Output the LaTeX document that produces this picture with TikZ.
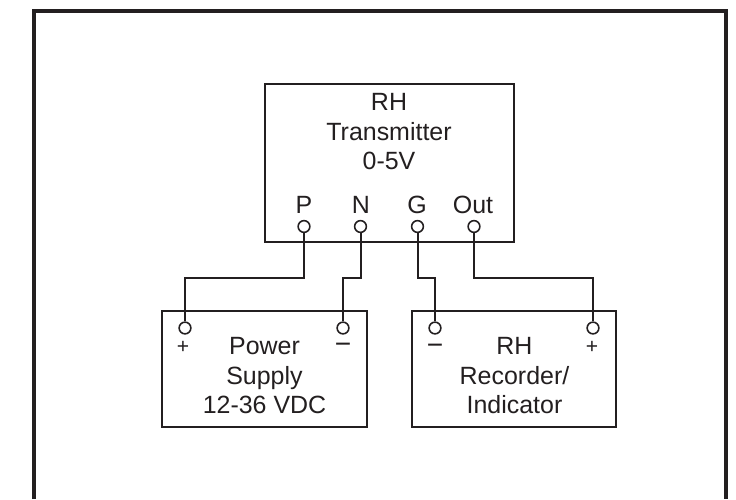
\documentclass[tikz,border=0pt]{standalone}
\usepackage{fontspec}
\setmainfont{Liberation Sans}
\definecolor{inkdark}{HTML}{231F20}
\tikzset{
  unitbox/.style={draw=inkdark, line width=0.04cm},
  terminal/.style={draw=inkdark, fill=white, line width=0.032cm, circle, inner sep=0pt, minimum size=0.235cm},
  wire/.style={draw=inkdark, line width=0.04cm},
  boxtext/.style={text=inkdark, align=center, font=\fontsize{14.2}{16.8}\selectfont},
  pinlabel/.style={text=inkdark, anchor=base, inner sep=0pt, font=\fontsize{14.2}{16.8}\selectfont},
  plussign/.style={text=inkdark, inner sep=0pt, font=\fontsize{12}{14}\selectfont},
  minussign/.style={text=inkdark, inner sep=0pt, font=\fontsize{16}{18}\selectfont}
}

\begin{document}
\begin{tikzpicture}
    \useasboundingbox (0,0) rectangle (14.72,9.98);
    % Outer frame, open at the bottom
    \coordinate (frameBL) at (0.68,0);
    \coordinate (frameTL) at (0.68,9.76);
    \coordinate (frameTR) at (14.52,9.76);
    \coordinate (frameBR) at (14.52,0);
    \draw[draw=inkdark, line width=0.08cm] (frameBL) -- (frameTL) -- (frameTR) -- (frameBR);
    % Draw the main boxes
    \node[unitbox, minimum width=4.99cm, minimum height=3.16cm] (transmitter) at (7.785,6.72) {};
    \node[unitbox, minimum width=4.09cm, minimum height=2.32cm] (supply) at (5.29,2.60) {};
    \node[unitbox, minimum width=4.08cm, minimum height=2.32cm] (recorder) at (10.28,2.60) {};
    \node[boxtext] (transmitterText) at (7.78,7.34) {RH\\Transmitter\\0-5V};
    \node[boxtext] (supplyText) at (5.29,2.46) {Power\\Supply\\12-36 VDC};
    \node[boxtext] (recorderText) at (10.29,2.46) {RH\\Recorder/\\Indicator};
    % Terminals on the transmitter
    \node[terminal] (termP) at (6.08,5.45) {};
    \node[terminal] (termN) at (7.21,5.45) {};
    \node[terminal] (termG) at (8.35,5.45) {};
    \node[terminal] (termOut) at (9.48,5.45) {};
    \node[pinlabel] (labelP) at (6.08,5.72) {P};
    \node[pinlabel] (labelN) at (7.22,5.72) {N};
    \node[pinlabel] (labelG) at (8.34,5.72) {G};
    \node[pinlabel] (labelOut) at (9.46,5.72) {Out};
    % Terminals on the two lower boxes
    \node[terminal] (supplyPlus) at (3.70,3.42) {};
    \node[terminal] (supplyMinus) at (6.86,3.42) {};
    \node[terminal] (recorderMinus) at (8.70,3.42) {};
    \node[terminal] (recorderPlus) at (11.86,3.42) {};
    \node[plussign] (signA) at (3.66,3.04) {+};
    \node[minussign] (signB) at (6.86,3.02) {−};
    \node[minussign] (signC) at (8.70,3.00) {−};
    \node[plussign] (signD) at (11.84,3.04) {+};
    % Wires
    \coordinate (bend) at (0,4.43);
    \draw[wire] (termP.south) -- (termP |- bend) -| (supplyPlus.north);
    \draw[wire] (termN.south) -- (termN |- bend) -| (supplyMinus.north);
    \draw[wire] (termG.south) -- (termG |- bend) -| (recorderMinus.north);
    \draw[wire] (termOut.south) -- (termOut |- bend) -| (recorderPlus.north);
\end{tikzpicture}
\end{document}
